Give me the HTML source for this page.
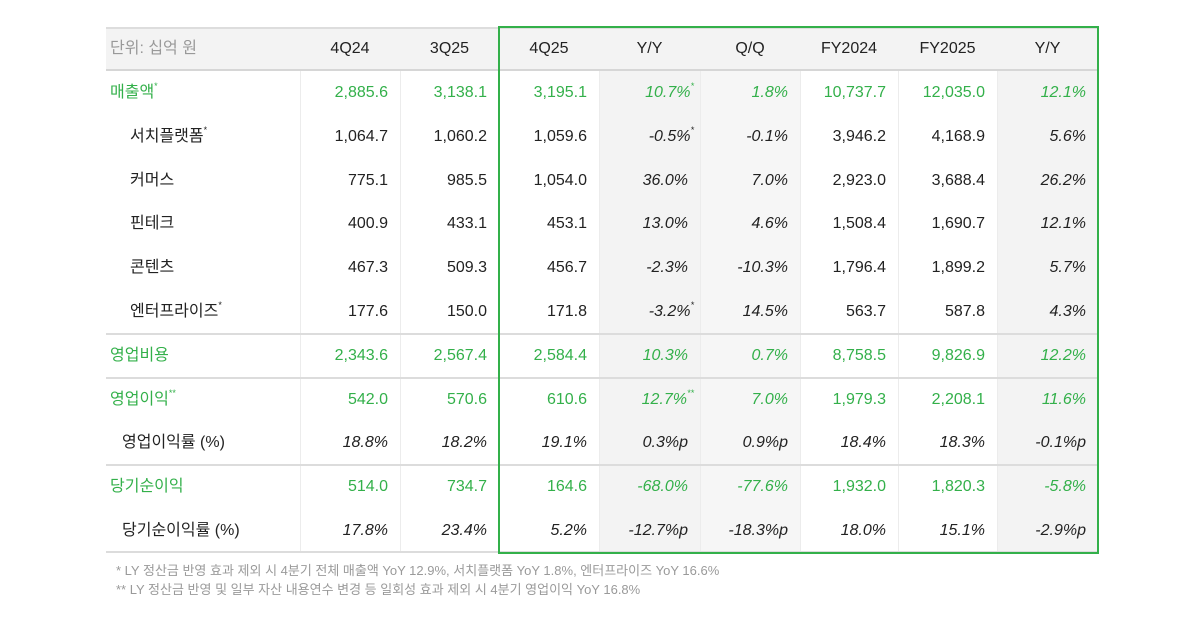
<!DOCTYPE html>
<html><head><meta charset="utf-8">
<style>
body{margin:0;width:1200px;height:628px;background:#fff;font-family:"Liberation Sans","Noto Sans CJK KR",sans-serif;position:relative;overflow:hidden}
.a{position:absolute}
.c{position:absolute;height:44px;line-height:44px;font-size:16px;color:#222;white-space:nowrap}
.r{text-align:right}
.g{color:#33b04a}
.i{font-style:italic}
sup{font-size:9px;vertical-align:top;line-height:30px}
.fn{position:absolute;left:116px;font-size:13px;color:#9a9a9a}
</style></head><body>
<div class="a" style="left:106px;top:27px;width:992px;height:43px;background:#f3f3f3;border-top:2px solid #ddd;box-sizing:border-box"></div>
<div class="a" style="left:599px;top:71px;width:101px;height:482px;background:#f3f3f3"></div>
<div class="a" style="left:700px;top:71px;width:100px;height:482px;background:#f6f6f6"></div>
<div class="a" style="left:997px;top:71px;width:101px;height:482px;background:#f3f3f3"></div>
<div id="grid"></div>
<div id="cells"></div>
<div class="a" style="left:498px;top:26px;width:601px;height:528px;border:2px solid #33b04a;box-sizing:border-box"></div>
<div class="fn" style="top:560px">* LY 정산금 반영 효과 제외 시 4분기 전체 매출액 YoY 12.9%, 서치플랫폼 YoY 1.8%, 엔터프라이즈 YoY 16.6%</div>
<div class="fn" style="top:579px">** LY 정산금 반영 및 일부 자산 내용연수 변경 등 일회성 효과 제외 시 4분기 영업이익 YoY 16.8%</div>
<script>
const headers=["단위: 십억 원","4Q24","3Q25","4Q25","Y/Y","Q/Q","FY2024","FY2025","Y/Y"];
const labels=["매출액|*","서치플랫폼|*","커머스","핀테크","콘텐츠","엔터프라이즈|*","영업비용","영업이익|**","영업이익률 (%)","당기순이익","당기순이익률 (%)"];
const green=[1,0,0,0,0,0,1,1,0,1,0];
const rows=[
["2,885.6","3,138.1","3,195.1","10.7%*","1.8%","10,737.7","12,035.0","12.1%"],
["1,064.7","1,060.2","1,059.6","-0.5%*","-0.1%","3,946.2","4,168.9","5.6%"],
["775.1","985.5","1,054.0","36.0%","7.0%","2,923.0","3,688.4","26.2%"],
["400.9","433.1","453.1","13.0%","4.6%","1,508.4","1,690.7","12.1%"],
["467.3","509.3","456.7","-2.3%","-10.3%","1,796.4","1,899.2","5.7%"],
["177.6","150.0","171.8","-3.2%*","14.5%","563.7","587.8","4.3%"],
["2,343.6","2,567.4","2,584.4","10.3%","0.7%","8,758.5","9,826.9","12.2%"],
["542.0","570.6","610.6","12.7%**","7.0%","1,979.3","2,208.1","11.6%"],
["18.8%","18.2%","19.1%","0.3%p","0.9%p","18.4%","18.3%","-0.1%p"],
["514.0","734.7","164.6","-68.0%","-77.6%","1,932.0","1,820.3","-5.8%"],
["17.8%","23.4%","5.2%","-12.7%p","-18.3%p","18.0%","15.1%","-2.9%p"]];
const colX=[106,300,400,499,599,700,800,898,997,1098];
const top0=71,rh=43.8;
const cells=document.getElementById('cells'),grid=document.getElementById('grid');
function div(p,cls,style,html){const d=document.createElement('div');d.className=cls;d.setAttribute('style',style);d.innerHTML=html;p.appendChild(d);return d;}
headers.forEach((h,j)=>{
 const d=div(cells,'c',`top:27px;left:${colX[j]}px;width:${colX[j+1]-colX[j]}px;text-align:${j?'center':'left'};${j?'':'color:#999;padding-left:4px;'}`,h);
 
 
});
for(let j=1;j<9;j++){
 const v=div(grid,'a',`left:${colX[j]}px;top:71px;width:1px;height:482px;background:#ececec`,'');
 
 
}
[[70,2,'#d6d6d6'],[334,2,'#dcdcdc'],[378,2,'#dcdcdc'],[465,2,'#dcdcdc'],[552,2,'#dcdcdc']].forEach(l=>{
 const h=div(grid,'a',`left:106px;top:${l[0]-1}px;width:992px;height:${l[1]}px;background:${l[2]}`,'');
 
 
});
labels.forEach((lb,i)=>{
 const y=top0+i*rh;
 const [t,s]=lb.split('|');
 const sub=!green[i];
 const d=div(cells,'c'+(green[i]?' g':''),`top:${y}px;left:${sub?(i==8||i==10?122:130):110}px`,t+(s?`<sup>${s}</sup>`:''));
 
 
 rows[i].forEach((v,j)=>{
  const pct=v.includes('%');
  const m=v.match(/^(.*?)(\*+)$/);
  const txt=m?m[1]+`<sup>${m[2]}</sup>`:v;
  const c=div(cells,'c r'+(green[i]?' g':'')+(pct?' i':''),`top:${y}px;left:${colX[j+1]}px;width:${colX[j+2]-colX[j+1]-12+(m?6:0)}px`,txt);
  
  
 });
});
</script>
</body></html>
